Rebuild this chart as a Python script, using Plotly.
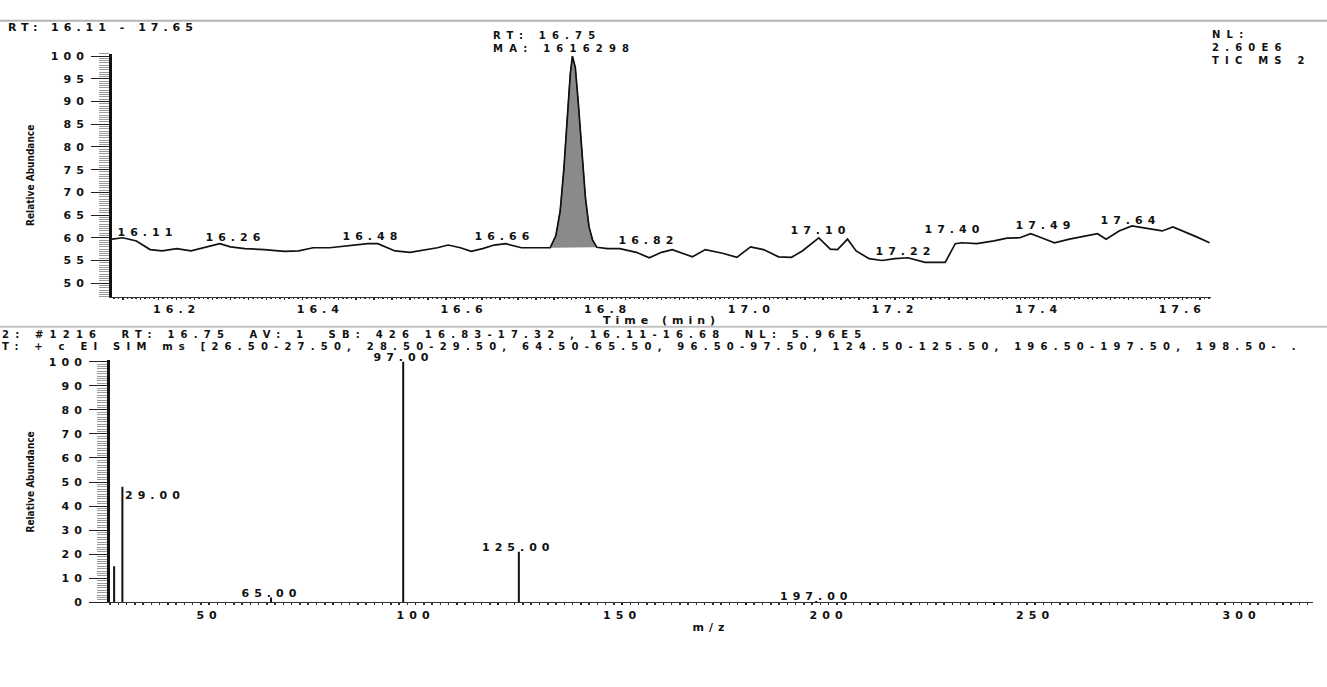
import plotly.graph_objects as go

W, H = 1327, 687

# ---------------- data: chromatogram (TIC) ----------------
time_min = [16.110, 16.125, 16.144, 16.163, 16.180, 16.200, 16.220, 16.237, 16.260, 16.275,
            16.295, 16.322, 16.350, 16.370, 16.390, 16.413, 16.440, 16.466, 16.480, 16.504,
            16.525, 16.546, 16.563, 16.578, 16.595, 16.610, 16.626, 16.642, 16.658, 16.680,
            16.700, 16.720, 16.728, 16.734, 16.739, 16.744, 16.748, 16.751, 16.755, 16.759,
            16.764, 16.769, 16.774, 16.779, 16.785, 16.800, 16.817, 16.840, 16.858, 16.875,
            16.890, 16.918, 16.936, 16.960, 16.980, 16.999, 17.017, 17.038, 17.056, 17.071,
            17.094, 17.110, 17.120, 17.134, 17.146, 17.164, 17.182, 17.200, 17.218, 17.242,
            17.270, 17.284, 17.293, 17.314, 17.338, 17.356, 17.374, 17.389, 17.404, 17.422,
            17.443, 17.464, 17.482, 17.494, 17.512, 17.530, 17.548, 17.572, 17.587, 17.601,
            17.620, 17.638]
rel_abundance = [59.7, 60.0, 59.3, 57.4, 57.1, 57.6, 57.1, 57.8, 58.7, 58.0,
                 57.6, 57.4, 57.0, 57.1, 57.8, 57.8, 58.2, 58.7, 58.7, 57.1,
                 56.8, 57.4, 57.8, 58.4, 57.8, 57.0, 57.6, 58.4, 58.7, 57.8,
                 57.8, 57.8, 60.5, 66.0, 75.0, 87.0, 96.0, 100.0, 97.5, 90.0,
                 79.0, 69.0, 62.5, 59.5, 57.9, 57.6, 57.6, 56.8, 55.6, 56.8,
                 57.4, 55.8, 57.4, 56.6, 55.7, 58.0, 57.4, 55.8, 55.7, 57.1,
                 60.0, 57.5, 57.4, 59.7, 57.1, 55.4, 55.0, 55.4, 55.6, 54.6,
                 54.6, 58.7, 58.9, 58.7, 59.3, 59.9, 60.0, 60.9, 60.0, 58.9,
                 59.7, 60.4, 60.9, 59.7, 61.5, 62.6, 62.1, 61.5, 62.4, 61.5,
                 60.2, 58.9]
peak_start, peak_end = 16.720, 16.785

peak_label_text = ["16.11", "16.26", "16.48", "16.66", "16.82",
                   "17.10", "17.22", "17.40", "17.49", "17.64"]
peak_label_time = [16.160, 16.282, 16.473, 16.656, 16.857,
                   17.097, 17.214, 17.283, 17.409, 17.528]
peak_label_abund = [61.1, 60.0, 60.2, 60.2, 59.3,
                    61.5, 57.0, 61.9, 62.6, 63.7]

# ---------------- data: mass spectrum (SIM) ----------------
mz_values = [27, 29, 65, 97, 125, 197]
mz_abund = [15, 48, 2, 100, 21, 0.6]
mz_labeled = [29, 65, 97, 125, 197]

# ---------------- text ----------------
hdr_range = "RT: 16.11 - 17.65"
hdr_peak = ["RT: 16.75", "MA: 1616298"]
hdr_nl = ["NL:", "2.60E6", "TIC MS 2"]
sp = "\u00a0"
hdr_scan = f"2: #1216{sp} RT: 16.75{sp} AV: 1{sp} SB: 426 16.83-17.32 , 16.11-16.68{sp} NL: 5.96E5"
hdr_filter = ("T: + c EI SIM ms [26.50-27.50, 28.50-29.50, 64.50-65.50, 96.50-97.50, "
              "124.50-125.50, 196.50-197.50, 198.50- .")
y_title = "Relative Abundance"

FONT = dict(family="DejaVu Sans", size=11, color="#111111", weight="bold")
HFONT = dict(family="DejaVu Sans", size=10, color="#111111", weight="bold")
TFONT = dict(family="DejaVu Sans Condensed", size=10, color="#111111", weight="bold")


def py(ypx):
    return 1 - ypx / H


fig = go.Figure()

# filled integrated peak
pk_t = [t for t in time_min if peak_start <= t <= peak_end]
pk_v = [v for t, v in zip(time_min, rel_abundance) if peak_start <= t <= peak_end]
fig.add_trace(go.Scatter(x=pk_t, y=pk_v, mode="lines", fill="toself",
                         fillcolor="#8a8a8a", line=dict(color="#222222", width=1),
                         xaxis="x", yaxis="y", hoverinfo="skip"))
# chromatogram trace
fig.add_trace(go.Scatter(x=time_min, y=rel_abundance, mode="lines",
                         line=dict(color="#111111", width=1.7),
                         xaxis="x", yaxis="y"))

# spectrum sticks
sx, sy = [], []
for m, a in zip(mz_values, mz_abund):
    sx += [m, m, None]
    sy += [0, a, None]
fig.add_trace(go.Scatter(x=sx, y=sy, mode="lines", line=dict(color="#111111", width=2),
                         xaxis="x2", yaxis="y2"))

ann = []
# chromatogram peak labels
for txt, t, v in zip(peak_label_text, peak_label_time, peak_label_abund):
    ann.append(dict(x=t, y=v, xref="x", yref="y", text=txt, showarrow=False,
                    xanchor="center", yanchor="middle", font=FONT))
# spectrum labels
for m, a in zip(mz_values, mz_abund):
    if m not in mz_labeled:
        continue
    if m == 29:
        ann.append(dict(x=m, y=a, xref="x2", yref="y2", text=f"{m:.2f}", showarrow=False,
                        xanchor="left", align="left", yanchor="top", xshift=1, font=FONT))
    else:
        ann.append(dict(x=m, y=a, xref="x2", yref="y2", text=f"{m:.2f}", showarrow=False,
                        xanchor="center", yanchor="bottom", yshift=-4, font=FONT))

# header texts
ann.append(dict(x=6 / W, y=py(23), xref="paper", yref="paper", text=hdr_range,
                showarrow=False, xanchor="left", align="left", yanchor="middle", font=FONT))
ann.append(dict(x=491 / W, y=py(38), xref="paper", yref="paper", text="<br>".join(hdr_peak),
                showarrow=False, xanchor="left", align="left", yanchor="middle", font=HFONT))
ann.append(dict(x=1210 / W, y=py(43), xref="paper", yref="paper", text="<br>".join(hdr_nl),
                showarrow=False, xanchor="left", align="left", yanchor="middle", font=HFONT))
ann.append(dict(x=0, y=py(335.5), xref="paper", yref="paper", text=hdr_scan,
                showarrow=False, xanchor="left", align="left", yanchor="middle", font=HFONT))
ann.append(dict(x=0, y=py(347.5), xref="paper", yref="paper", text=hdr_filter,
                showarrow=False, xanchor="left", align="left", yanchor="middle", font=HFONT))
# axis titles
ann.append(dict(x=661 / W, y=py(321), xref="paper", yref="paper", text="Time (min)",
                showarrow=False, xanchor="center", yanchor="middle", font=FONT))
ann.append(dict(x=711 / W, y=py(634), xref="paper", yref="paper", text="m/z",
                showarrow=False, xanchor="center", yanchor="middle", font=FONT))
ann.append(dict(x=31 / W, y=py(174), xref="paper", yref="paper", text=y_title,
                showarrow=False, textangle=-90, xanchor="center", yanchor="middle", font=TFONT))
ann.append(dict(x=31 / W, y=py(486), xref="paper", yref="paper", text=y_title,
                showarrow=False, textangle=-90, xanchor="center", yanchor="middle", font=TFONT))

# tick definitions
top_tv = [round(16.125 + 0.025 * i, 3) for i in range(61)]
top_tt = [f"{v:.1f}" if abs(round(v * 5) - v * 5) < 1e-6 else "" for v in top_tv]
bot_tv = list(range(30, 320, 10))
bot_tt = [str(v) if v % 50 == 0 else "" for v in bot_tv]

xax_common = dict(showline=True, linecolor="#333333", linewidth=1, ticks="outside",
                  ticklen=2, tickcolor="#222222", tickwidth=1.5, showgrid=False,
                  zeroline=False, tickfont=FONT, fixedrange=True)
yax_common = dict(showline=True, linecolor="#111111", linewidth=3, ticks="outside",
                  ticklen=18, tickcolor="#222222", tickwidth=1, showgrid=False,
                  zeroline=False, tickfont=FONT, fixedrange=True)

fig.update_layout(
    width=W, height=H, margin=dict(l=0, r=0, t=0, b=0),
    paper_bgcolor="white", plot_bgcolor="white", showlegend=False,
    annotations=ann,
    shapes=[
        dict(type="line", xref="paper", yref="paper", x0=0, x1=1, y0=py(16), y1=py(16),
             line=dict(color="#b4b4b4", width=2)),
        dict(type="line", xref="paper", yref="paper", x0=0, x1=1, y0=py(327.5), y1=py(327.5),
             line=dict(color="#c4c4c4", width=2)),
    ],
    xaxis=dict(domain=[112 / W, 1211 / W], range=[16.11, 17.64], anchor="y",
               tickvals=top_tv, ticktext=top_tt,
               minor=dict(dtick=0.00625, tick0=16.1, ticklen=1.5, tickcolor="#333333", ticks="outside"),
               **xax_common),
    yaxis=dict(domain=[py(297), py(49.7)], range=[47, 100.5], anchor="x",
               tick0=50, dtick=5,
               minor=dict(dtick=0.5, tick0=47, ticklen=10, tickcolor="#9a9a9a", ticks="outside"),
               **yax_common),
    xaxis2=dict(domain=[110 / W, 1313 / W], range=[26, 317.3], anchor="y2",
                tickvals=bot_tv, ticktext=bot_tt,
                minor=dict(dtick=2, tick0=0, ticklen=1.5, tickcolor="#333333", ticks="outside"),
                **xax_common),
    yaxis2=dict(domain=[py(608), py(361.8)], range=[0, 100.5], anchor="x2",
                tick0=0, dtick=10,
                minor=dict(dtick=1, tick0=0, ticklen=10, tickcolor="#9a9a9a", ticks="outside"),
                **yax_common),
)

post = ("var s=document.createElement('style');"
        "s.textContent=\"svg text:not([style*='Condensed']){letter-spacing:5px;}"
        " svg text[style*='font-size: 10px']:not([style*='Condensed']){letter-spacing:6.2px;}\";"
        "document.head.appendChild(s);")
fig.write_html("out.html", config={"displayModeBar": False, "staticPlot": True}, post_script=post)
